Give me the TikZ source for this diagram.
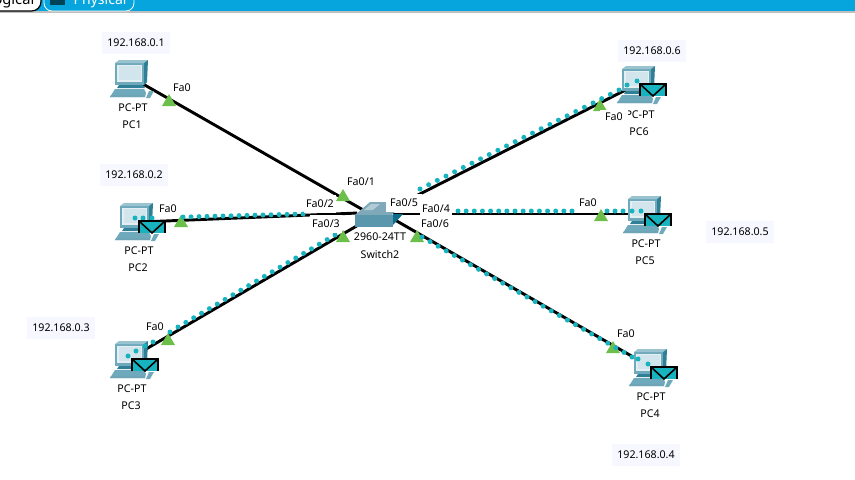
\documentclass[tikz,border=0pt]{standalone}
\usepackage{fontspec}
\setmainfont{Noto Sans}
\usetikzlibrary{positioning, calc}
\definecolor{barblue}{HTML}{06A5DD}
\definecolor{pcdark}{HTML}{2F7F96}
\definecolor{pcmid}{HTML}{6FA9BC}
\definecolor{pclight}{HTML}{D3E5EC}
\definecolor{swtop}{HTML}{7FA9B8}
\definecolor{swfront}{HTML}{5A97AD}
\definecolor{swside}{HTML}{0C6E8C}
\definecolor{mailteal}{HTML}{17B4C0}
\definecolor{portgreen}{HTML}{6CBF4B}
\definecolor{ipback}{HTML}{F7F7FF}
\tikzset{
	x=0.75pt, y=-0.75pt,
	devlabel/.style={font=\fontsize{8}{9.6}\selectfont, inner sep=0.5pt},
	portlabel/.style={devlabel, fill=white, inner xsep=1.5pt, inner ysep=2.5pt},
	iplabel/.style={devlabel, fill=ipback, inner xsep=4pt, inner ysep=5pt},
	link/.style={draw=black, line width=2.2pt},
	linkend/.style={inner sep=0pt, minimum size=1pt},
	portmark/.pic={\fill[portgreen] (-7,6) -- (0,-6) -- (7,6) -- cycle;},
	pcicon/.pic={
		\fill[pcmid] (-14,-16) rectangle (15,6);
		\fill[pcmid!70!white] (-14,-16) -- (-10,-19) -- (19,-19) -- (15,-16) -- cycle;
		\fill[pcdark] (15,-16) -- (19,-19) -- (18,3) -- (15,6) -- cycle;
		\fill[pclight!60!white] (-12,-14) rectangle (13,3);
		\fill[pclight] (-10,-13) rectangle (12,1);
		\fill[pcdark] (-10,6) -- (14,6) -- (16,9) -- (-12,9) -- cycle;
		\fill[pcmid] (-14,10) -- (15,10) -- (17,14) -- (16,18) -- (-19,18) -- cycle;
		\fill[pcdark!70] (-18,16) -- (16,16) -- (16,18) -- (-19,18) -- cycle;
		\fill[pcmid] (20,12) -- (25,12) -- (21,19) -- (17,19) -- cycle;
	},
	mailicon/.pic={
		\fill[mailteal] (-13,-6) rectangle (13,6);
		\draw[black, line width=1.4pt] (-13,6) -- (-13,-6) -- (13,-6) -- (13,6);
		\draw[black, line width=1.2pt] (-13,-6) -- (0,6) -- (13,-6);
	},
}
% dots along a connector
\newcommand{\linkdots}[3]{
	\foreach \i in {0,...,#3}
		\fill[mailteal] ($(#1)!\i/#3!(#2)$) circle (2.5);
}
\begin{document}
\begin{tikzpicture}
	\useasboundingbox (0,0) rectangle (855,479);
	
	%Link ends
	\node[linkend] (pc1) at (129,76) {};
	\node[linkend] (pc2) at (134,222.3) {};
	\node[linkend] (pc3) at (129,359) {};
	\node[linkend] (pc4) at (648,365.5) {};
	\node[linkend] (pc5) at (642,214) {};
	\node[linkend] (pc6) at (636,84.7) {};
	\node[linkend] (swp1) at (372,215) {};
	\node[linkend] (swp2) at (358,213) {};
	\node[linkend] (swp3) at (360,224) {};
	\node[linkend] (swp4) at (395,220) {};
	\node[linkend] (swp5) at (392,214) {};
	\node[linkend] (swp6) at (410,199) {};
	
	%Links
	\draw[link] (pc1) -- (swp1);
	\draw[link] (pc2) -- (swp2);
	\draw[link] (pc3) -- (swp3);
	\draw[link] (pc4) -- (swp4);
	\draw[link] (pc5) -- (swp5);
	\draw[link] (pc6) -- (swp6);
	
	%Port marks
	\foreach \px/\py in {169/100, 181/221, 168/339, 343/195, 343/236, 417/236, 601/215, 613/347, 600/105}
		\pic at (\px,\py) {portmark};
	
	%Moving dots
	\coordinate (d2a) at (183,217);
	\coordinate (d2b) at (303,214);
	\coordinate (d3a) at (178,327);
	\coordinate (d3b) at (335,235);
	\coordinate (d4a) at (422,237);
	\coordinate (d4b) at (632,357);
	\coordinate (d5a) at (458,211);
	\coordinate (d5b) at (572,211);
	\coordinate (d6a) at (420,189);
	\coordinate (d6b) at (619,90);
	\linkdots{d2a}{d2b}{15}
	\linkdots{d3a}{d3b}{20}
	\linkdots{d4a}{d4b}{26}
	\linkdots{d5a}{d5b}{14}
	\linkdots{d6a}{d6b}{23}
	
	%PCs
	\foreach \px/\py in {129/79, 134/222, 129/360, 648/368, 642/215, 636/85}
		\pic at (\px,\py) {pcicon};
	
	%Dots and mail over the PCs
	\fill[mailteal] (627,85) circle (2.5) (637,81) circle (2.5);
	\fill[mailteal] (135,218) circle (2.5) (143,218) circle (2.5) (152,218) circle (2.5);
	\fill[mailteal] (170,332) circle (2.5) (153,342) circle (2.5) (145,346) circle (2.5) (136,351) circle (2.5) (128,356) circle (2.5);
	\fill[mailteal] (607,211) circle (2.5) (615,211) circle (2.5) (623,211) circle (2.5) (632,211) circle (2.5) (641,211) circle (2.5);
	\fill[mailteal] (638,359) circle (2.5) (648,364) circle (2.5);
	\pic at (653,90) {mailicon};
	\pic at (152,227) {mailicon};
	\pic at (145,365) {mailicon};
	\pic at (664,373) {mailicon};
	\pic at (658,220) {mailicon};
	
	%Switch
	\fill[swtop] (355,215) -- (370,202) -- (403,202) -- (392,215) -- cycle;
	\fill[swtop!60!white] (364,210) -- (371,204) -- (380,204) -- (373,210) -- cycle;
	\fill[swfront] (355,215) rectangle (393,227);
	\fill[swside] (393,214) -- (403,214) -- (393,225) -- cycle;
	
	%Device labels
	\node[devlabel] (sw1) at (380,237) {2960-24TT};
	\node[devlabel] (sw2) at (380,254) {Switch2};
	\node[devlabel] (m1) at (133,108) {PC-PT};
	\node[devlabel] (n1) at (132,125) {PC1};
	\node[devlabel] (m2) at (139,251) {PC-PT};
	\node[devlabel] (n2) at (138,268) {PC2};
	\node[devlabel] (m3) at (132,389) {PC-PT};
	\node[devlabel] (n3) at (131,406) {PC3};
	\node[devlabel] (m4) at (651,397) {PC-PT};
	\node[devlabel] (n4) at (650,414) {PC4};
	\node[devlabel] (m5) at (646,244) {PC-PT};
	\node[devlabel] (n5) at (645,261) {PC5};
	\node[devlabel] (m6) at (640,115) {PC-PT};
	\node[devlabel] (n6) at (639,132) {PC6};
	
	%Port labels
	\node[portlabel] (p1a) at (182,88) {Fa0};
	\node[portlabel] (p2a) at (168,209) {Fa0};
	\node[portlabel] (p3a) at (155,327) {Fa0};
	\node[portlabel] (p4a) at (626,334) {Fa0};
	\node[portlabel] (p5a) at (588,203) {Fa0};
	\node[portlabel, inner xsep=4pt] (p6a) at (614,117) {Fa0};
	\node[portlabel] (s1) at (361,182) {Fa0/1};
	\node[portlabel, inner ysep=4pt] (s2) at (320,204) {Fa0/2};
	\node[portlabel, inner ysep=4pt] (s3) at (326,224) {Fa0/3};
	\node[portlabel, inner ysep=4pt] (s4) at (436,209) {Fa0/4};
	\node[portlabel, inner ysep=4pt, inner xsep=3pt] (s5) at (404,203) {Fa0/5};
	\node[portlabel] (s6) at (435,224) {Fa0/6};
	
	%Addresses
	\node[iplabel] (ip1) at (136,43) {192.168.0.1};
	\node[iplabel] (ip2) at (134,175) {192.168.0.2};
	\node[iplabel] (ip3) at (61,328) {192.168.0.3};
	\node[iplabel] (ip4) at (646,455) {192.168.0.4};
	\node[iplabel] (ip5) at (740,232) {192.168.0.5};
	\node[iplabel] (ip6) at (652,51) {192.168.0.6};
	
	%Top bar
	\fill[barblue] (0,0) rectangle (855,11);
	\fill[black!25] (0,11) rectangle (855,12.5);
	\begin{scope}
		\clip (0,0) rectangle (855,11);
		\draw[black, fill=white, line width=0.9pt, rounded corners=7] (-20,-14) rectangle (41,11);
		\node[font=\fontsize{11}{13}\selectfont\bfseries, anchor=base east] (logical) at (39,4) {ogical};
		\draw[white, line width=0.6pt, rounded corners=6] (44,-14) rectangle (134,11);
		\node[font=\fontsize{10.5}{13}\selectfont, text=white, anchor=base west] (physical) at (69,4) {Physical};
		\fill[black!60!barblue] (50,-2) rectangle (65,5);
	\end{scope}
\end{tikzpicture}
\end{document}
